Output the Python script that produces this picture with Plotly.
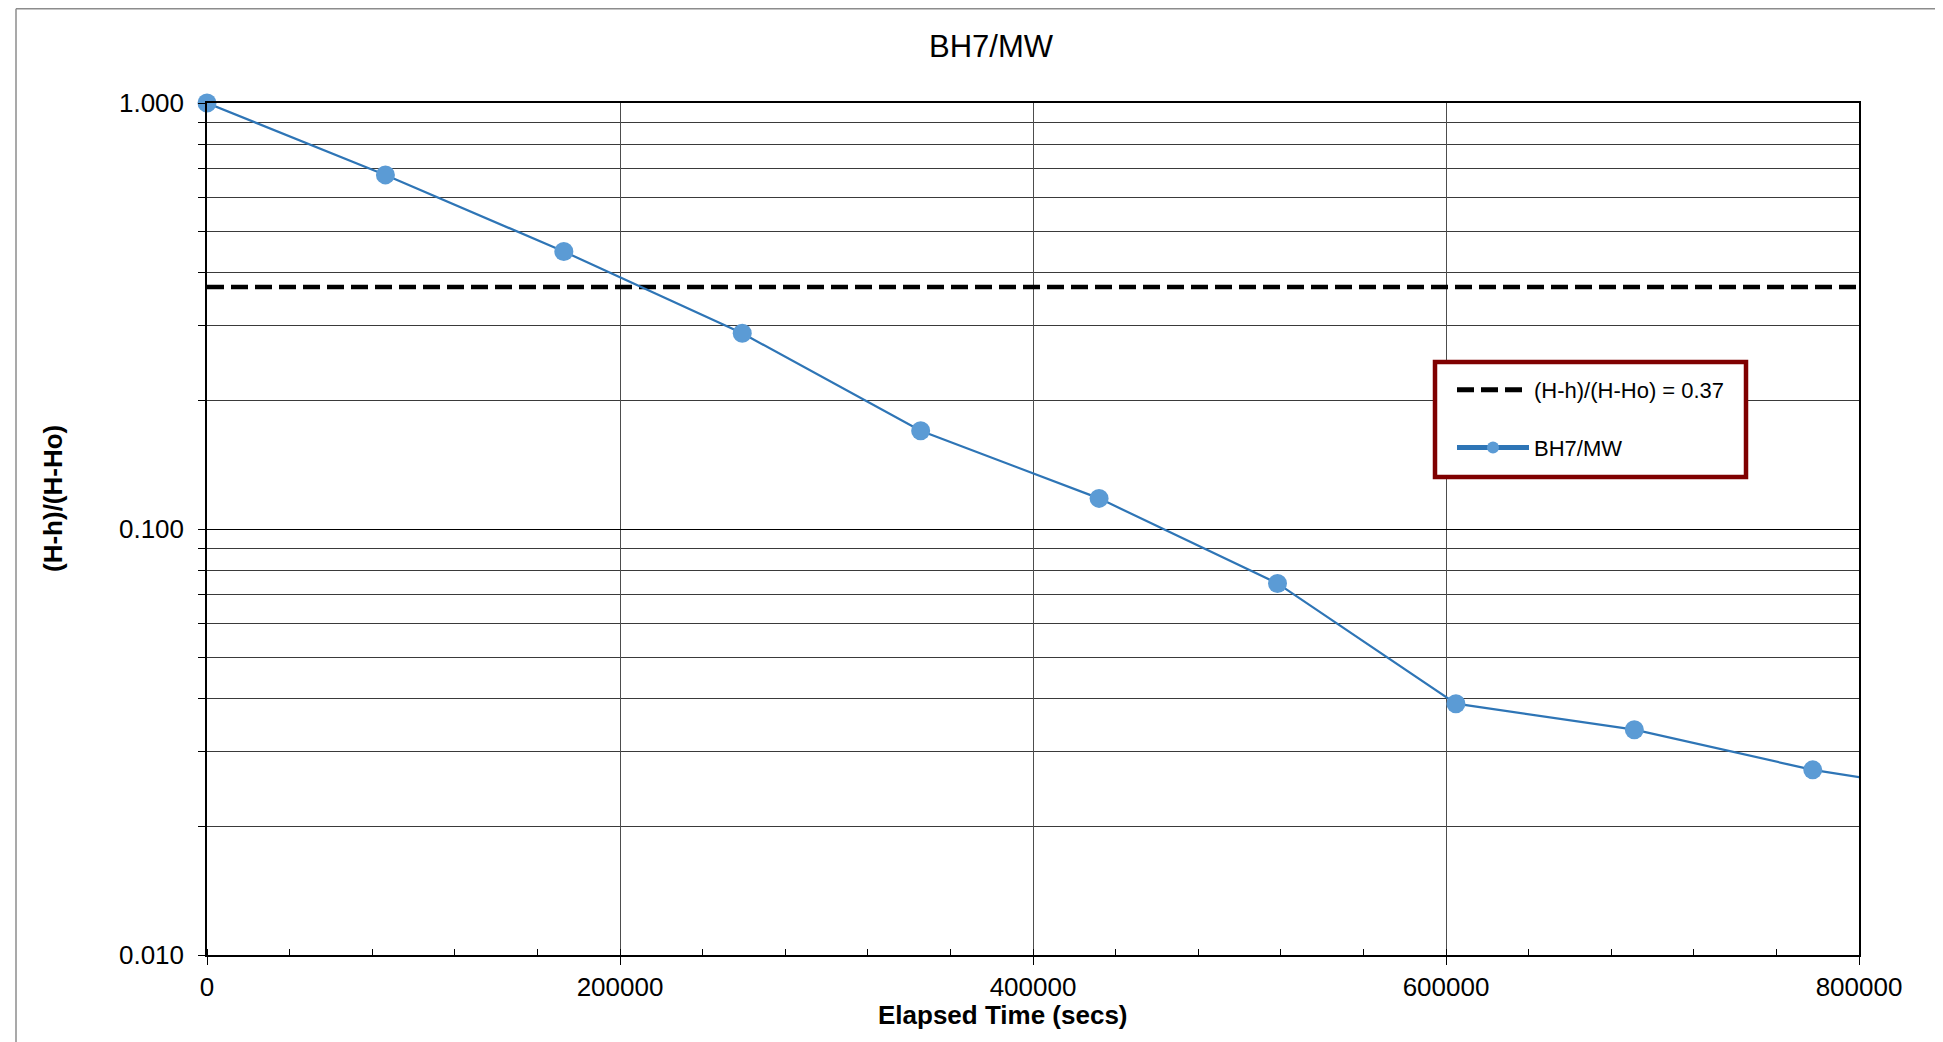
import plotly.graph_objects as go

# ---- data ----
elapsed_secs = [0, 86400, 172800, 259200, 345600, 432000, 518400, 604800, 691200, 777600, 864000]
head_ratio = [1.000, 0.678, 0.448, 0.288, 0.170, 0.118, 0.0745, 0.0389, 0.0338, 0.0272, 0.0234]
threshold_x = [0, 800000]
threshold_y = [0.37, 0.37]
x_ticks = [0, 200000, 400000, 600000, 800000]
x_ticktext = ["0", "200000", "400000", "600000", "800000"]
y_ticks = [0.01, 0.1, 1.0]
y_ticktext = ["0.010", "0.100", "1.000"]
y_minor = [k * 10.0 ** e for e in (-2, -1) for k in range(2, 10)]

OFF = 8  # page body margin
W, H = 1943 - OFF, 1042 - OFF
# plot area in screen pixels: left 207, right 1859, top 103, bottom 955
L, T = 207 - OFF, 103 - OFF
R, B = W - (1859 - OFF), H - (955 - OFF)
pw, ph = W - L - R, H - T - B


def px_x(p):
    """screen px -> paper x"""
    return (p - OFF - L) / pw


def px_y(p):
    """screen px -> paper y"""
    return (H - B - (p - OFF)) / ph


FONT = "Liberation Sans, Arial, sans-serif"

# hide the marker of the last (off-chart) point so only its line segment shows
marker_sizes = [19] * (len(elapsed_secs) - 1) + [0]

fig = go.Figure()
fig.add_trace(go.Scatter(
    x=threshold_x, y=threshold_y, mode="lines",
    name="(H-h)/(H-Ho) = 0.37", legendgroup="a",
    line=dict(color="black", width=4.5, dash="17px,7px"),
))
fig.add_trace(go.Scatter(
    x=elapsed_secs, y=head_ratio, mode="lines+markers",
    name="BH7/MW", legendgroup="b", cliponaxis=False,
    line=dict(color="#2e75b6", width=2.2),
    marker=dict(color="#5b9bd5", size=marker_sizes, opacity=1, line=dict(width=0)),
))

fig.update_layout(
    width=W, height=H,
    margin=dict(l=L, r=R, t=T, b=B),
    paper_bgcolor="white", plot_bgcolor="white",
    font=dict(family=FONT, color="black", size=26),
    title=dict(text="BH7/MW", font=dict(size=31, family=FONT, color="black"),
               x=(991 - OFF) / W, xref="container", xanchor="center",
               y=1 - (46 - OFF) / H, yref="container", yanchor="middle"),
    showlegend=True,
    legend=dict(
        x=px_x(1452), y=px_y(369), xanchor="left", yanchor="top",
        bgcolor="rgba(0,0,0,0)", borderwidth=0,
        font=dict(size=22, family=FONT, color="black"),
        itemwidth=72, itemsizing="constant",
        tracegroupgap=26, traceorder="grouped",
    ),
    annotations=[
        dict(text="Elapsed Time (secs)", xref="paper", yref="paper",
             x=px_x(1003), y=px_y(1015), xanchor="center", yanchor="middle",
             showarrow=False,
             font=dict(size=26, family=FONT, color="black", weight="bold")),
        dict(text="(H-h)/(H-Ho)", xref="paper", yref="paper", textangle=-90,
             x=px_x(53), y=px_y(499), xanchor="center", yanchor="middle",
             showarrow=False,
             font=dict(size=26, family=FONT, color="black", weight="bold")),
    ],
)

fig.update_xaxes(
    range=[0, 800000], tickmode="array", tickvals=x_ticks, ticktext=x_ticktext,
    showgrid=True, gridcolor="#4d4d4d", gridwidth=1,
    ticks="outside", ticklen=8, tickcolor="black", tickwidth=1,
    showline=True, linecolor="black", linewidth=2, mirror=True,
    zeroline=False, ticklabelstandoff=0,
    tickfont=dict(size=26, family=FONT, color="black"),
    minor=dict(dtick=40000, ticks="inside", ticklen=6, tickcolor="black", showgrid=False),
)
fig.update_yaxes(
    type="log", range=[-2, 0], tickmode="array", tickvals=y_ticks, ticktext=y_ticktext,
    showgrid=True, gridcolor="black", gridwidth=1,
    ticks="outside", ticklen=7, tickcolor="black", tickwidth=1,
    showline=True, linecolor="black", linewidth=1.5, mirror=True,
    zeroline=False, ticklabelstandoff=9,
    tickfont=dict(size=26, family=FONT, color="black"),
    minor=dict(tickvals=y_minor, ticks="outside", ticklen=7, tickcolor="black",
               showgrid=True, gridcolor="#3a3a3a", gridwidth=1),
)

# outer chart frame (only top and left edges are visible in the reference)
fig.add_shape(type="line", xref="paper", yref="paper",
              x0=px_x(16), x1=px_x(1950), y0=px_y(8.8), y1=px_y(8.8),
              line=dict(color="#8c8c8c", width=1.5))
fig.add_shape(type="line", xref="paper", yref="paper",
              x0=px_x(16), x1=px_x(16), y0=px_y(8.8), y1=px_y(1050),
              line=dict(color="#8c8c8c", width=1.5))
# legend box
fig.add_shape(type="rect", xref="paper", yref="paper",
              x0=px_x(1435), x1=px_x(1746), y0=px_y(477), y1=px_y(362),
              line=dict(color="#7f0000", width=4.5), fillcolor="white", layer="above")

fig.write_html("out.html")
